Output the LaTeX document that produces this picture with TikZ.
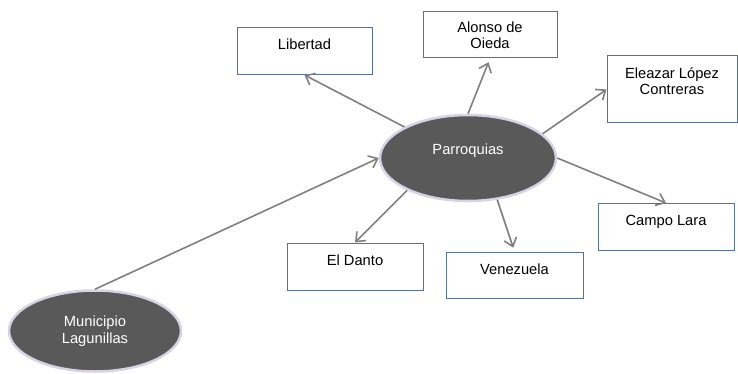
\documentclass[tikz,border=0pt]{standalone}
\usepackage{fontspec}
\setmainfont{Liberation Sans}
\usetikzlibrary{shapes.geometric,arrows.meta}
\definecolor{elfill}{HTML}{595959}
\definecolor{elborde}{HTML}{D8D2E6}
\definecolor{cajaborde}{RGB}{85,113,155}
\definecolor{flechagris}{HTML}{808080}
\tikzset{every node/.style={inner sep=0pt,font=\fontsize{14.7}{16.5}\selectfont}}

\begin{document}
\begin{tikzpicture}[x=1pt,y=-1pt]
\useasboundingbox (0,0) rectangle (738,374);

\tikzstyle{el}=[ellipse,fill=elfill,draw=elborde,line width=2.5pt,text=white,align=center]
\tikzstyle{caja}=[rectangle,draw=cajaborde,line width=1pt,fill=white,align=center,minimum width=135pt]
\tikzstyle{uno}=[caja,text height=22pt,text depth=25pt]
\tikzstyle{flecha}=[flechagris,line width=1.6pt,-{Straight Barb[length=8pt,width=13pt]}]

% elipses
\node[el,minimum width=176pt,minimum height=86pt,text height=10.5pt,text depth=18pt] (parr) at (468,158) {Parroquias};
\node[el,minimum width=172pt,minimum height=81pt] (mun) at (95,331) {Municipio\\Lagunillas};

% parroquias
\node[uno] (lib) at (304.5,51) {Libertad};
\node[caja,minimum width=134pt,minimum height=46pt] (alo) at (490,35) {Alonso de\\Oieda};
\node[caja,minimum width=130pt,text height=39pt,text depth=28pt] (ele) at (672,89.5) {Eleazar López\\Contreras};
\node[uno,minimum width=136pt] (cam) at (666,227) {Campo Lara};
\node[uno,minimum width=136pt] (dan) at (355,266.5) {El Danto};
\node[uno,minimum width=137pt,text depth=24pt] (ven) at (514.5,275) {Venezuela};

% flechas
\draw[flecha] (mun.north) -- (parr.west);
\foreach \s/\t in {154/lib.south,18/ele.west,east/cam.north,208/dan.north}
  \draw[flecha] (parr.\s) -- (\t);
\draw[flecha,shorten >=4pt] (parr.north) -- (alo.south);
\draw[flecha,shorten >=4pt] (parr.-55) -- (ven.north);

\end{tikzpicture}
\end{document}
